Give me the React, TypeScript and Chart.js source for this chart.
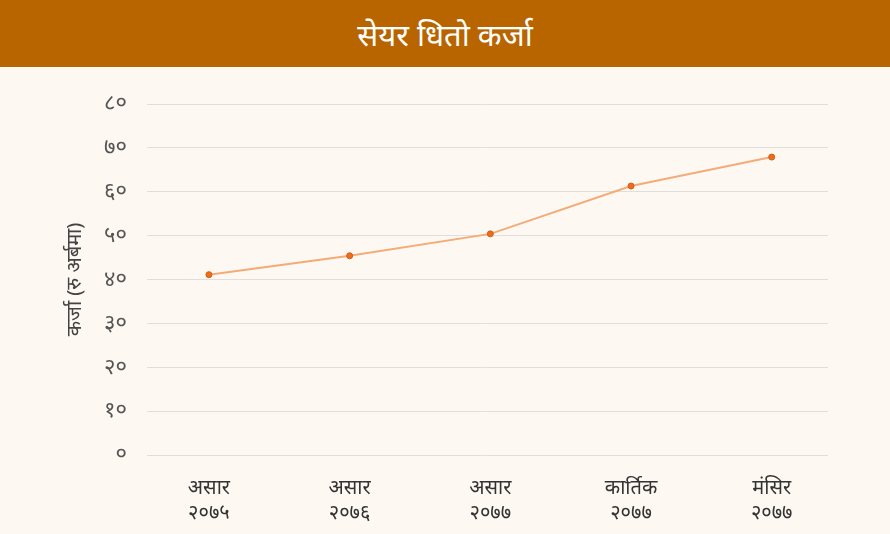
import React, { useEffect, useRef } from "react";
import { Chart, registerables } from "chart.js";

Chart.register(...registerables);

const title = "सेयर धितो कर्जा";
const yAxisTitle = "कर्जा (रु अर्बमा)";
const categories: string[][] = [
  ["असार", "२०७५"],
  ["असार", "२०७६"],
  ["असार", "२०७७"],
  ["कार्तिक", "२०७७"],
  ["मंसिर", "२०७७"],
];
const loanValues = [41.1, 45.4, 50.4, 61.3, 67.9];
const yTicks = [0, 10, 20, 30, 40, 50, 60, 70, 80];
const yTickLabels = ["०", "१०", "२०", "३०", "४०", "५०", "६०", "७०", "८०"];

const FONT = "'Noto Sans', 'Noto Sans Devanagari', sans-serif";

export default function App() {
  const ref = useRef<HTMLCanvasElement | null>(null);
  useEffect(() => {
    document.body.style.margin = "0";
    document.body.style.background = "#fdf9f2";
    const ctx = ref.current!;
    const chart = new Chart(ctx, {
      type: "line",
      data: {
        datasets: [
          {
            data: loanValues.map((v, i) => ({ x: i, y: v })),
            borderColor: "#f3ab78",
            borderWidth: 2,
            pointRadius: 3,
            pointBackgroundColor: "#ec6d1b",
            pointBorderColor: "#d35f15",
            pointBorderWidth: 1,
            tension: 0,
          },
        ],
      },
      options: {
        animation: false,
        responsive: false,
        maintainAspectRatio: false,
        layout: { padding: { left: 63, right: 62, top: 37, bottom: 0 } },
        plugins: { legend: { display: false }, tooltip: { enabled: false } },
        scales: {
          x: {
            type: "linear",
            min: -0.44,
            max: 4.4,
            afterBuildTicks: (axis: any) => {
              axis.ticks = categories.map((_, i) => ({ value: i }));
            },
            afterFit: (axis: any) => {
              axis.height = 79;
            },
            grid: { display: false },
            border: { display: false },
            ticks: {
              autoSkip: false,
              maxRotation: 0,
              padding: 13,
              color: "#333333",
              font: { family: FONT, size: 20, lineHeight: 1.25 },
              callback: (v: any) => categories[Number(v)] ?? "",
            },
          },
          y: {
            min: 0,
            max: 80,
            afterBuildTicks: (axis: any) => {
              axis.ticks = yTicks.map((v) => ({ value: v }));
            },
            afterFit: (axis: any) => {
              axis.width = 84;
            },
            grid: { color: "#dfdfdf", lineWidth: 1, drawTicks: false },
            border: { display: false },
            ticks: {
              padding: 20,
              color: "#555555",
              font: { family: FONT, size: 22 },
              callback: (v: any) => yTickLabels[yTicks.indexOf(Number(v))] ?? "",
            },
            title: {
              display: true,
              text: yAxisTitle,
              color: "#444444",
              font: { family: FONT, size: 20 },
              padding: { top: 0, bottom: 0 },
            },
          },
        },
      },
    });
    return () => chart.destroy();
  }, []);
  return (
    <div style={{ width: 890, height: 534, background: "#fdf9f2", overflow: "hidden" }}>
      <div
        style={{
          height: 67,
          background: "#b86500",
          color: "#ffffff",
          display: "flex",
          alignItems: "center",
          justifyContent: "center",
          fontFamily: FONT,
          fontSize: 31,
        }}
      >
        {title}
      </div>
      <canvas ref={ref} width={890} height={467} style={{ display: "block" }} />
    </div>
  );
}
